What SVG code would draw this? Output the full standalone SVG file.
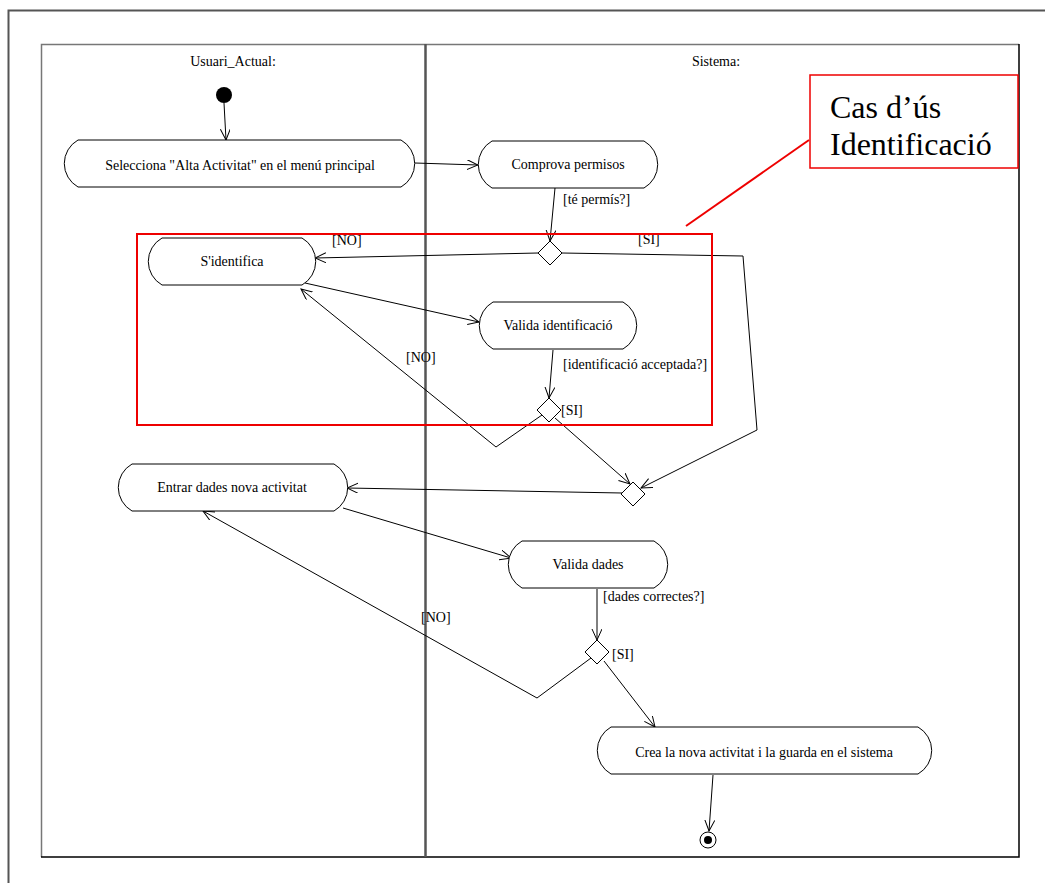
<svg xmlns="http://www.w3.org/2000/svg" width="1045" height="883" viewBox="0 0 1045 883">
<style>
.t{font-family:"Liberation Serif","Times New Roman",serif;font-size:14px;fill:#000}
.h{font-family:"Liberation Serif","Times New Roman",serif;font-size:14px;fill:#000}
.n{fill:#fff;stroke:#000;stroke-width:1}
.c{fill:none;stroke:#000;stroke-width:1}
.lbl{font-family:"Liberation Serif","Times New Roman",serif;font-size:14px;fill:#000}
.big{font-family:"Liberation Serif","Times New Roman",serif;font-size:32px;fill:#000}
</style>
<defs>
<marker id="a" markerUnits="userSpaceOnUse" markerWidth="12" markerHeight="12" refX="11" refY="5" orient="auto">
<path d="M0,0 L11,5 L0,10" fill="none" stroke="#000" stroke-width="1"/>
</marker>
</defs>
<rect width="1045" height="883" fill="#fff"/>
<g id="frame">
<path d="M8.5,883 V10.5 H1045" fill="none" stroke="#555" stroke-width="2"/>
<path d="M41.5,857 V44.5 H1019" fill="none" stroke="#777" stroke-width="1.5"/>
<path d="M1019,44 V857 H41" fill="none" stroke="#000" stroke-width="1.5"/>
<line x1="425.5" y1="44" x2="425.5" y2="857" stroke="#555" stroke-width="2.5"/>
<text class="h" x="233" y="66" text-anchor="middle">Usuari_Actual:</text>
<text class="h" x="716" y="66" text-anchor="middle">Sistema:</text>
</g>
<g id="connectors">
<line class="c" x1="224" y1="103" x2="226" y2="140" marker-end="url(#a)"/>
<line class="c" x1="415" y1="163" x2="478" y2="165" marker-end="url(#a)"/>
<line class="c" x1="555" y1="188" x2="550" y2="241" marker-end="url(#a)"/>
<text class="lbl" x="563" y="204">[té permís?]</text>
<line class="c" x1="538" y1="253" x2="315" y2="258" marker-end="url(#a)"/>
<text class="lbl" x="332" y="245">[NO]</text>
<polyline class="c" points="562,253 743,256 757,430 641,488" marker-end="url(#a)"/>
<text class="lbl" x="638" y="244">[SI]</text>
<line class="c" x1="305" y1="283" x2="479" y2="322" marker-end="url(#a)"/>
<line class="c" x1="553" y1="350" x2="549" y2="398" marker-end="url(#a)"/>
<text class="lbl" x="563" y="369">[identificació acceptada?]</text>
<polyline class="c" points="542,415 496,447 301,289" marker-end="url(#a)"/>
<text class="lbl" x="406" y="362">[NO]</text>
<text class="lbl" x="561" y="415">[SI]</text>
<line class="c" x1="555" y1="418" x2="630" y2="484" marker-end="url(#a)"/>
<line class="c" x1="622" y1="493" x2="347" y2="488" marker-end="url(#a)"/>
<line class="c" x1="343" y1="508" x2="511" y2="558" marker-end="url(#a)"/>
<line class="c" x1="597" y1="589" x2="597" y2="640" marker-end="url(#a)"/>
<text class="lbl" x="603" y="601">[dades correctes?]</text>
<polyline class="c" points="591,658 537,698 203,511" marker-end="url(#a)"/>
<text class="lbl" x="421" y="622">[NO]</text>
<text class="lbl" x="612" y="659">[SI]</text>
<line class="c" x1="604" y1="661" x2="655" y2="727" marker-end="url(#a)"/>
<line class="c" x1="713" y1="775" x2="709" y2="831" marker-end="url(#a)"/>
</g>
<g id="initial"><circle cx="224" cy="95" r="8" fill="#000"/></g>
<g id="n1">
<path class="n" d="M78,140 H401 A27,27 0 0 1 401,187 H78 A27,27 0 0 1 78,140 Z"/>
<text class="t" x="240" y="170" text-anchor="middle">Selecciona "Alta Activitat" en el menú principal</text>
</g>
<g id="n2">
<path class="n" d="M492,141 H644 A27,27 0 0 1 644,188 H492 A27,27 0 0 1 492,141 Z"/>
<text class="t" x="568" y="169" text-anchor="middle">Comprova permisos</text>
</g>
<g id="d1"><polygon class="n" points="550,241 562,253 550,265 538,253"/></g>
<g id="n3">
<path class="n" d="M162,238 H302 A27,27 0 0 1 302,285 H162 A27,27 0 0 1 162,238 Z"/>
<text class="t" x="232" y="266" text-anchor="middle">S'identifica</text>
</g>
<g id="n4">
<path class="n" d="M493,302 H623 A27,27 0 0 1 623,349 H493 A27,27 0 0 1 493,302 Z"/>
<text class="t" x="558" y="330" text-anchor="middle">Valida identificació</text>
</g>
<g id="d2"><polygon class="n" points="549,398 561,410 549,422 537,410"/></g>
<g id="d3"><polygon class="n" points="633,482 645,494 633,506 621,494"/></g>
<g id="n5">
<path class="n" d="M132,464 H334 A27,27 0 0 1 334,511 H132 A27,27 0 0 1 132,464 Z"/>
<text class="t" x="232" y="492" text-anchor="middle">Entrar dades nova activitat</text>
</g>
<g id="n6">
<path class="n" d="M522,541 H654 A27,27 0 0 1 654,588 H522 A27,27 0 0 1 522,541 Z"/>
<text class="t" x="588" y="569" text-anchor="middle">Valida dades</text>
</g>
<g id="d4"><polygon class="n" points="597,640 609,652 597,664 585,652"/></g>
<g id="n7">
<path class="n" d="M611,727 H918 A27,27 0 0 1 918,774 H611 A27,27 0 0 1 611,727 Z"/>
<text class="t" x="764" y="757" text-anchor="middle">Crea la nova activitat i la guarda en el sistema</text>
</g>
<g id="final">
<circle cx="708" cy="840" r="8" fill="#fff" stroke="#000" stroke-width="1"/>
<circle cx="708" cy="840" r="4" fill="#000"/>
</g>
<g id="callout">
<rect x="137" y="234" width="575" height="191" fill="none" stroke="#e00" stroke-width="2"/>
<line x1="809" y1="140" x2="686" y2="226" stroke="#e00" stroke-width="2"/>
<rect x="810" y="75" width="208" height="93" fill="#fff" stroke="#e00" stroke-width="1.5"/>
<text class="big" x="830" y="118">Cas d’ús</text>
<text class="big" x="830" y="155">Identificació</text>
</g>
</svg>
